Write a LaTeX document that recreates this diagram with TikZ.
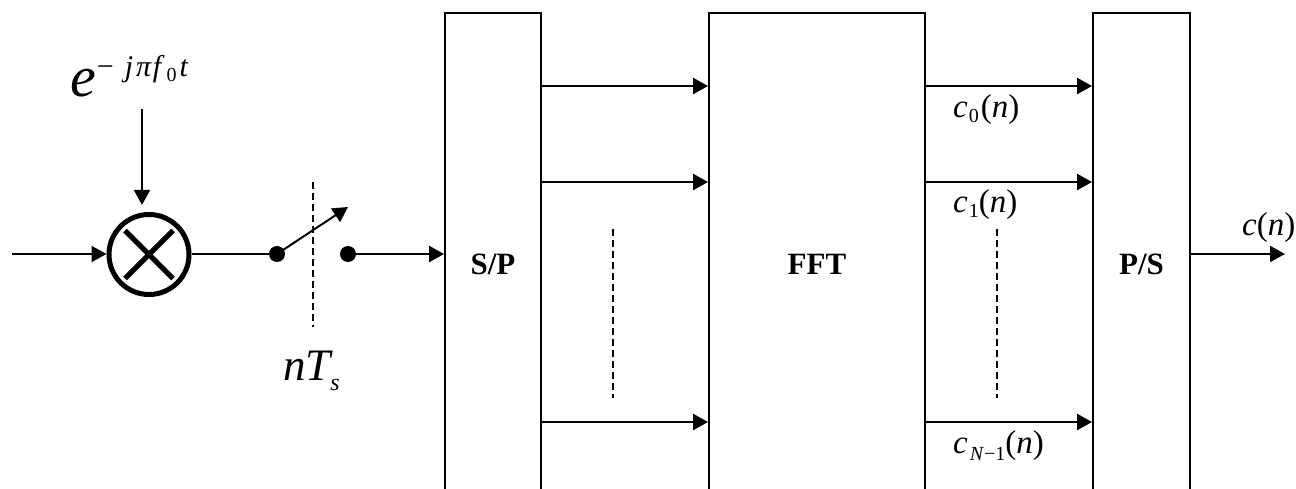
\documentclass[tikz,border=0pt]{standalone}
\usepackage{fontspec}
\setmainfont{Liberation Serif}
\usetikzlibrary{arrows.meta,calc}
\begin{document}
\begin{tikzpicture}[x=1pt,y=-1pt,
  arr/.style={line width=2pt,-{Triangle[length=15pt,width=16pt]}},
  blk/.style={draw,line width=1.8pt,anchor=north,minimum height=502pt,inner sep=0pt,
    font=\fontsize{31}{31}\selectfont\bfseries},
  dsh/.style={line width=1.5pt,dash pattern=on 7pt off 4pt},
  dotnode/.style={circle,fill,inner sep=0pt,minimum size=16pt},
  lbl/.style={anchor=base west,inner sep=0pt,font=\fontsize{33}{33}\selectfont}]
\useasboundingbox (0,0) rectangle (1296,489);

% blocks
\node[blk,minimum width=96pt] (sp) at (493,12) {S/P};
\node[blk,minimum width=216pt] (fft) at (817,12) {FFT};
\node[blk,minimum width=97pt] (ps) at (1141.5,12) {P/S};

% mixer
\node[circle,draw,line width=5pt,minimum size=80pt,inner sep=0pt] (mix) at (149,254.5) {};
\draw[line width=5pt] ($(mix.center)+(-24,-24)$) -- ($(mix.center)+(24,24)$);
\draw[line width=5pt] ($(mix.center)+(-24,24)$) -- ($(mix.center)+(24,-24)$);
\coordinate (in) at (12,254);
\draw[arr] (in) -- (in -| mix.west);

% exponent label
\node[anchor=base west,inner sep=0pt] (ex) at (70,97)
  {\fontsize{58}{58}\selectfont\textit{e}\raisebox{20pt}{\fontsize{30}{30}\selectfont\kern1pt −\hspace{11pt}\textit{j}\hspace{3pt}\textit{π}\hspace{1pt}\textit{f}\raisebox{-5pt}{\fontsize{20}{20}\selectfont\hspace{2pt}0}\hspace{3pt}\textit{t}}};
\coordinate (etop) at (142,109);
\draw[arr] (etop) -- ([yshift=7pt]etop |- mix.north);

% switch
\node[dotnode] (d1) at (277,254) {};
\node[dotnode] (d2) at (348,254) {};
\draw[line width=2pt] (mix.east |- d1) -- (d1);
\coordinate (sw) at (348,207);
\draw[arr] (d1.center) -- (sw);
\draw[arr] (d2) -- (sp.west |- d2);
\coordinate (ds1) at (313,182);
\coordinate (ds2) at (313,327);
\draw[dsh] (ds1) -- (ds2);
\node[anchor=base west,inner sep=0pt] (nts) at (283,380)
  {\fontsize{45}{45}\selectfont\textit{nT}\kern-3pt\raisebox{-10pt}{\fontsize{24}{24}\selectfont\textit{s}}};

% parallel branches
\foreach \yy/\nm in {86/ra,182/rb,422/rc}{
  \coordinate (\nm) at (0,\yy);
  \draw[arr] (sp.east |- \nm) -- (fft.west |- \nm);
  \draw[arr] (fft.east |- \nm) -- (ps.west |- \nm);
}
\draw[dsh] (613,229) -- (613,398);
\draw[dsh] (997,229) -- (997,398);

% labels
\node[lbl] (c0) at (953,118) {\textit{c}\raisebox{-5pt}{\fontsize{20}{20}\selectfont\hspace{1pt}0}\hspace{2pt}(\textit{n})};
\node[lbl] (c1) at (953,213) {\textit{c}\raisebox{-5pt}{\fontsize{20}{20}\selectfont\hspace{1pt}1}(\textit{n})};
\node[lbl] (cN) at (953,453) {\textit{c}\raisebox{-7pt}{\fontsize{20}{20}\selectfont\hspace{2pt}\textit{N}−1}(\textit{n})};

% output
\coordinate (out) at (1285,254);
\draw[arr] (ps.east |- out) -- (out);
\node[lbl] (cn) at (1242,236) {\textit{c}(\textit{n})};
\end{tikzpicture}
\end{document}
